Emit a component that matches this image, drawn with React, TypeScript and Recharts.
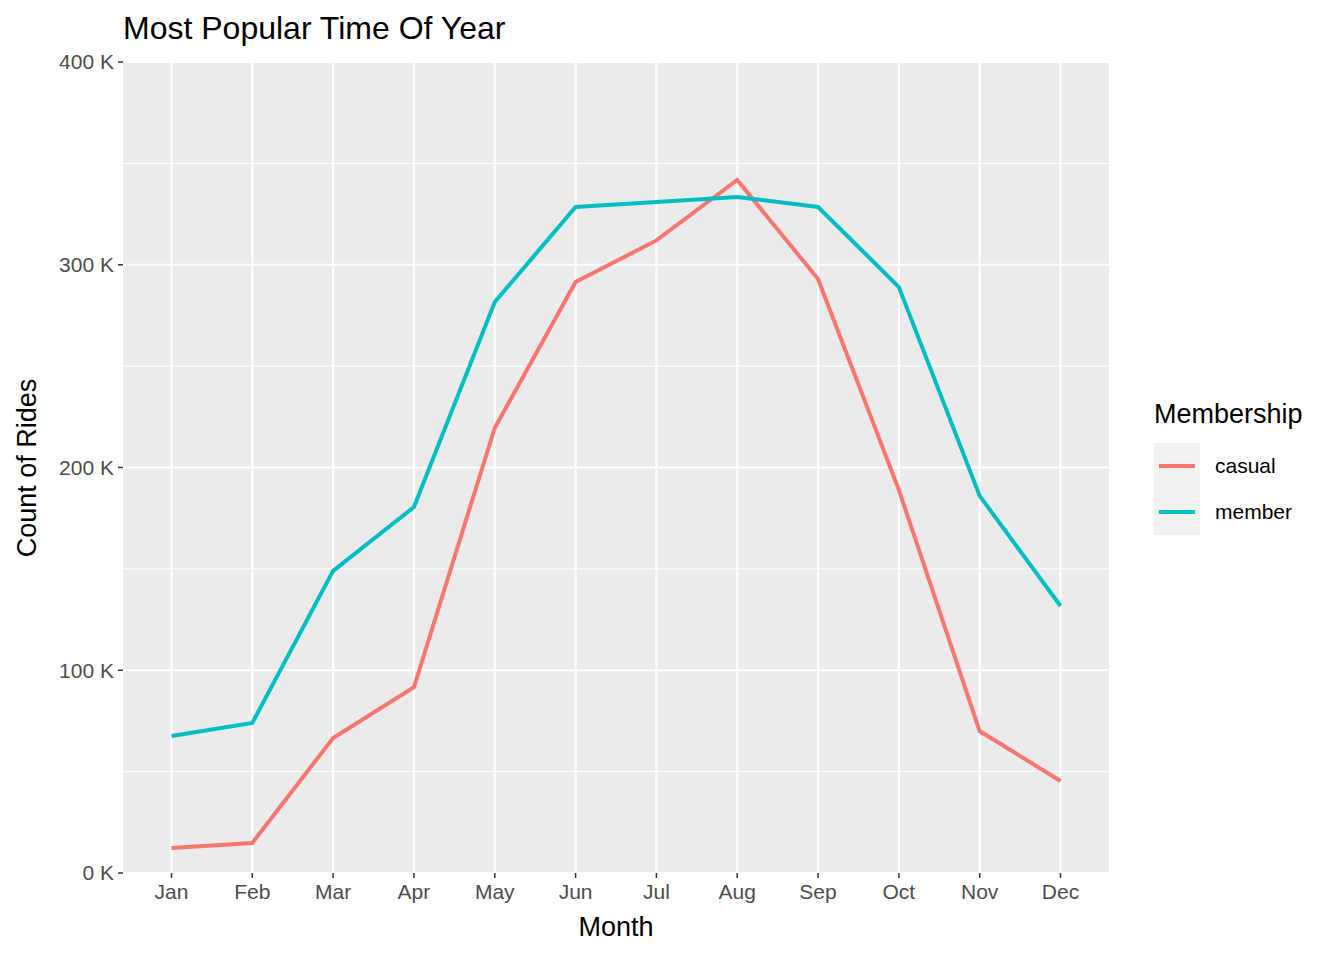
import React from 'react';
import { LineChart, Line, XAxis, YAxis, CartesianGrid, ReferenceLine } from 'recharts';

const months = ['Jan','Feb','Mar','Apr','May','Jun','Jul','Aug','Sep','Oct','Nov','Dec'];
const casual = [12.3, 14.8, 66.6, 91.7, 219.5, 291.5, 312, 341.8, 293, 189, 70, 45.4];
const member = [67.6, 74, 149, 180.5, 281.6, 328.5, 331, 333.4, 328.5, 289, 186, 131.7];
const yTicks = [0, 100, 200, 300, 400];
const yMinor = [50, 150, 250, 350];

const data = months.map((m, i) => ({ i, month: m, casual: casual[i] * 1000, member: member[i] * 1000 }));

const font = '"Liberation Sans", Arial, sans-serif';
const RED = '#F8766D';
const TEAL = '#00BFC4';

export default function App() {
  return (
    <div style={{ position: 'absolute', left: 0, top: 0, width: 1344, height: 960, background: '#fff', fontFamily: font }}>
      <LineChart width={1344} height={960} data={data} margin={{ top: 62, right: 235, bottom: 0, left: 0 }}>
        <CartesianGrid fill="#EBEBEB" stroke="#FFFFFF" strokeWidth={2.1}
          horizontalValues={yTicks.map(v => v * 1000)} verticalValues={months.map((_, i) => i)} />
        {yMinor.map(v => <ReferenceLine key={v} y={v * 1000} stroke="#FFFFFF" strokeWidth={1} />)}
        <XAxis dataKey="i" type="number" domain={[-0.6, 11.6]} ticks={months.map((_, i) => i)}
          tickFormatter={(v: number) => months[v]} height={87} axisLine={false}
          tickLine={{ stroke: '#333333', strokeWidth: 1.5 }} tickSize={5}
          tick={{ fill: '#4D4D4D', fontSize: 21, fontFamily: font }} tickMargin={6} interval={0} />
        <YAxis type="number" domain={[0, 400000]} ticks={yTicks.map(v => v * 1000)} width={123}
          tickFormatter={(v: number) => `${v / 1000} K`} axisLine={false}
          tickLine={{ stroke: '#333333', strokeWidth: 1.5 }} tickSize={5} tickMargin={4}
          tick={{ fill: '#4D4D4D', fontSize: 21, fontFamily: font }} />
        <Line dataKey="casual" stroke={RED} strokeWidth={4} dot={false} isAnimationActive={false} />
        <Line dataKey="member" stroke={TEAL} strokeWidth={4} dot={false} isAnimationActive={false} />
      </LineChart>
      <div style={{ position: 'absolute', left: 123, top: 10, fontSize: 32, color: '#000' }}>Most Popular Time Of Year</div>
      <div style={{ position: 'absolute', left: 616, top: 912, transform: 'translateX(-50%)', fontSize: 27, color: '#000' }}>Month</div>
      <div style={{ position: 'absolute', left: 27, top: 468, transform: 'translate(-50%,-50%) rotate(-90deg)', fontSize: 27, color: '#000', whiteSpace: 'nowrap' }}>Count of Rides</div>
      <div style={{ position: 'absolute', left: 1154, top: 399, fontSize: 27, color: '#000' }}>Membership</div>
      {[['casual', RED], ['member', TEAL]].map(([name, c], k) => (
        <React.Fragment key={name}>
          <div style={{ position: 'absolute', left: 1154, top: 443 + k * 46, width: 46, height: 46, background: '#F2F2F2' }}>
            <div style={{ position: 'absolute', left: 5, top: 21, width: 36, height: 4, background: c }} />
          </div>
          <div style={{ position: 'absolute', left: 1215, top: 454 + k * 46, fontSize: 21, color: '#000' }}>{name}</div>
        </React.Fragment>
      ))}
    </div>
  );
}
